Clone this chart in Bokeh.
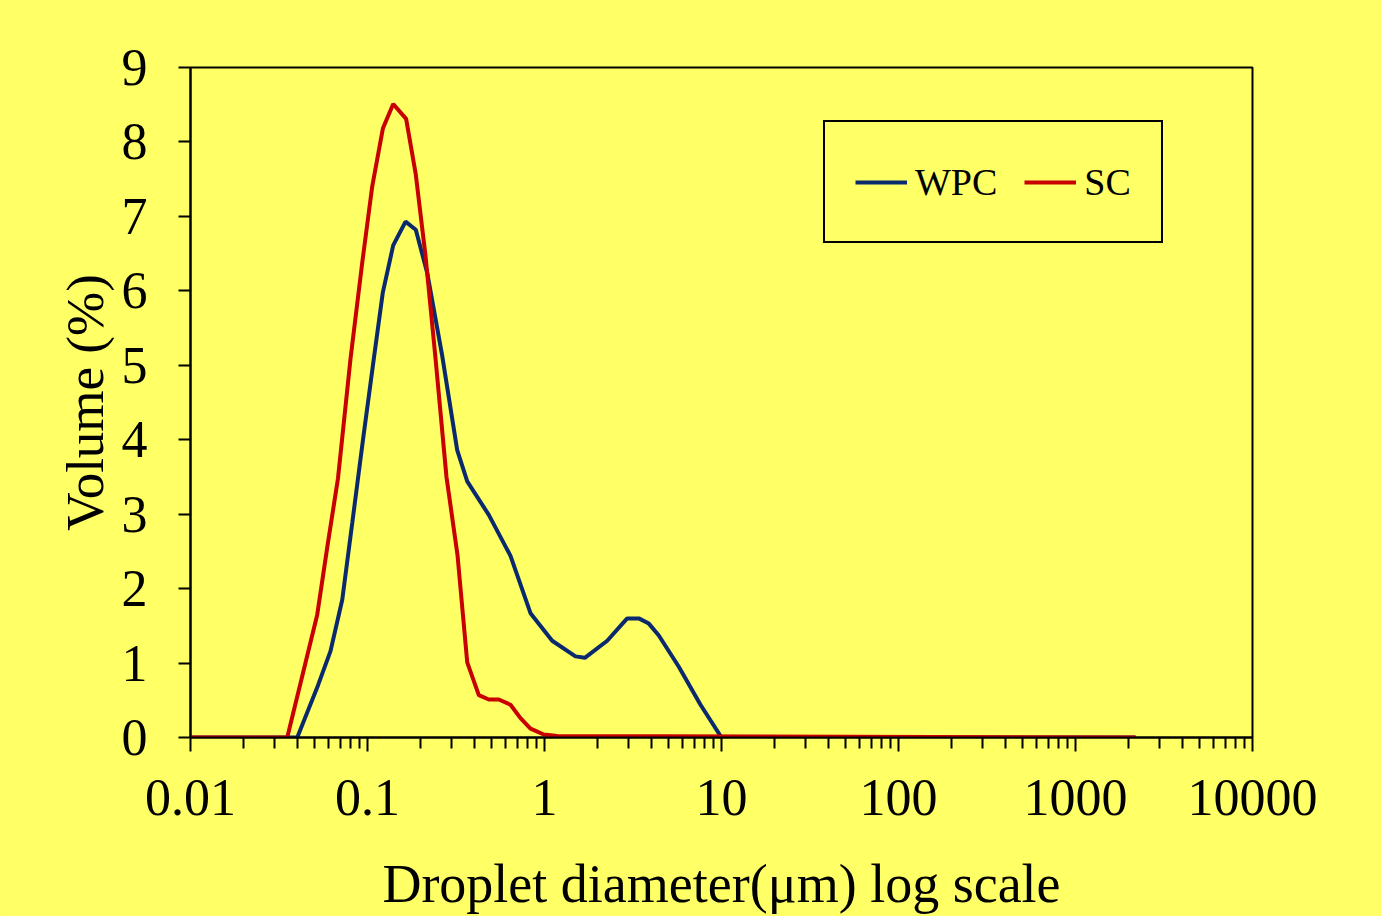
from bokeh.plotting import figure
from bokeh.models import (Range1d, FixedTicker, CustomJSTickFormatter, Legend, LegendItem,
                          GlobalInlineStyleSheet)
from bokeh.embed import file_html
from bokeh.resources import INLINE

# ---- data ----
wpc_x = [0.01, 0.0401, 0.0525, 0.0618, 0.0720, 0.0820, 0.0943, 0.1086, 0.1221, 0.1397,
         0.164, 0.1875, 0.2175, 0.2642, 0.3212, 0.3660, 0.4845, 0.6426, 0.8335, 1.105,
         1.496, 1.690, 2.261, 2.932, 3.411, 3.885, 4.424, 5.738, 7.611, 10.0, 2183]
wpc_y = [0, 0, 0.70, 1.16, 1.85, 2.88, 4.0, 5.09, 5.98, 6.61,
         6.93, 6.82, 6.24, 5.13, 3.86, 3.44, 2.99, 2.44, 1.67, 1.30,
         1.09, 1.07, 1.30, 1.60, 1.60, 1.53, 1.37, 0.95, 0.44, 0, 0]

sc_x = [0.01, 0.0352, 0.0520, 0.0592, 0.0681, 0.0802, 0.0934, 0.1063, 0.1221, 0.1397,
        0.1653, 0.1875, 0.2127, 0.2423, 0.2794, 0.3225, 0.3660, 0.4254, 0.4845, 0.5518,
        0.6426, 0.7318, 0.8335, 0.991, 1.18, 2183]
sc_y = [0, 0, 1.65, 2.55, 3.48, 5.09, 6.38, 7.40, 8.18, 8.51,
        8.31, 7.56, 6.47, 5.09, 3.50, 2.45, 1.01, 0.57, 0.51, 0.51,
        0.44, 0.26, 0.12, 0.04, 0.02, 0]

x_ticks = [0.01, 0.1, 1, 10, 100, 1000, 10000]
x_tick_labels = ["0.01", "0.1", "1", "10", "100", "1000", "10000"]
y_ticks = [0, 1, 2, 3, 4, 5, 6, 7, 8, 9]

series_names = ["WPC", "SC"]
series_colors = ["#0B2A6E", "#C80000"]

BG = "#FFFF66"
FONT = "Liberation Serif"

p = figure(width=1381, height=916, x_axis_type="log",
           x_range=Range1d(0.01, 10000), y_range=Range1d(0, 9),
           output_backend="svg", toolbar_location=None,
           min_border_left=190, min_border_right=129,
           min_border_top=67, min_border_bottom=175)

p.background_fill_color = BG
p.border_fill_color = BG
p.outline_line_color = "black"
p.outline_line_width = 2
p.xgrid.visible = False
p.ygrid.visible = False

minor = [m * 10.0 ** e for e in range(-2, 4) for m in range(2, 10)]
p.xaxis.ticker = FixedTicker(ticks=x_ticks, minor_ticks=minor)
p.xaxis.formatter = CustomJSTickFormatter(args=dict(tvals=x_ticks, tlabels=x_tick_labels), code="""
    let best = 0, bd = Infinity;
    for (let i = 0; i < tvals.length; i++) {
        const d = Math.abs(Math.log10(tvals[i]) - Math.log10(tick));
        if (d < bd) { bd = d; best = i; }
    }
    return tlabels[best];
""")
p.yaxis.ticker = FixedTicker(ticks=y_ticks, minor_ticks=[])

for ax in (p.xaxis[0], p.yaxis[0]):
    ax.axis_line_color = "black"
    ax.axis_line_width = 2
    ax.major_tick_line_color = "black"
    ax.major_tick_line_width = 2
    ax.minor_tick_line_color = "black"
    ax.minor_tick_line_width = 2
    ax.major_tick_in = 0
    ax.minor_tick_in = 0
    ax.major_label_text_font = FONT
    ax.major_label_text_font_size = "52px"
    ax.major_label_text_color = "black"
    ax.axis_label_text_font = FONT
    ax.axis_label_text_font_style = "normal"
    ax.axis_label_text_color = "black"

p.xaxis.major_tick_out = 14
p.xaxis.minor_tick_out = 11
p.xaxis.major_label_standoff = 28
p.xaxis.axis_label = "Droplet diameter(\u03bcm) log scale"
p.xaxis.axis_label_text_font_size = "54px"
p.xaxis.axis_label_standoff = 36

p.yaxis.major_tick_out = 12
p.yaxis.minor_tick_out = 0
p.yaxis.major_label_standoff = 31
p.yaxis.axis_label = "Volume (%)"
p.yaxis.axis_label_text_font_size = "53px"
p.yaxis.axis_label_standoff = 5

r_wpc = p.line(wpc_x, wpc_y, line_color=series_colors[0], line_width=4)
r_sc = p.line(sc_x, sc_y, line_color=series_colors[1], line_width=4)

legend = Legend(items=[LegendItem(label=series_names[0], renderers=[r_wpc]),
                       LegendItem(label=series_names[1], renderers=[r_sc])],
                orientation="horizontal", location=(633, 494), margin=0,
                padding=30, spacing=27, glyph_width=52, glyph_height=20,
                label_standoff=8, label_height=59, label_text_font=FONT,
                label_text_font_size="38px", label_text_color="black",
                border_line_color="black", border_line_width=2, border_line_alpha=1,
                background_fill_color=BG, background_fill_alpha=1)
p.add_layout(legend)

p.stylesheets = [GlobalInlineStyleSheet(css="html, body { background-color: #FFFF66; }")]

open("out.html", "w").write(file_html(p, INLINE))
